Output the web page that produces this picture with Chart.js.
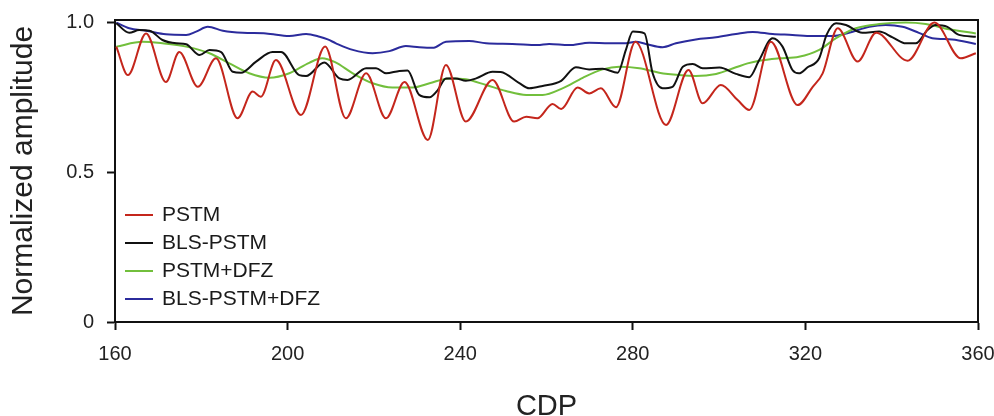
<!DOCTYPE html>
<html lang="en">
  <head>
    <meta charset="UTF-8" />
    <title>Normalized amplitude vs CDP</title>
    <script src="https://cdn.jsdelivr.net/npm/chart.js"></script>
    <style>
      html, body { margin: 0; padding: 0; background: #fff; }
      #wrap { width: 994px; height: 416px; }
    </style>
  </head>
  <body>
    <div id="wrap"><canvas id="ampChart" width="994" height="416"></canvas></div>
    <script>
      // values (CDP, normalized amplitude)
      const seriesLabels = ["PSTM", "BLS-PSTM", "PSTM+DFZ", "BLS-PSTM+DFZ"];
      const xTicks = [160, 200, 240, 280, 320, 360];
      const yTicks = [0, 0.5, 1.0];

      const pstmCdp = [160.3, 163, 167.2, 171.8, 174.9, 179.2, 183.4, 188.4, 191.9, 193.8, 197.3, 203.1, 208.7, 213.5, 218.2, 222.8, 227.1, 232.5, 236.7, 241.3, 247.5, 252.5, 255.3, 257.9, 261.4, 263.4, 267.2, 269.9, 272.6, 276.1, 280.6, 287.7, 292.9, 296.2, 300.4, 304.3, 307, 312, 318.2, 321.7, 324, 327.5, 332.1, 336.4, 343.7, 349.9, 356, 359.5];
      const pstm = [0.918, 0.823, 0.962, 0.80, 0.90, 0.784, 0.879, 0.679, 0.768, 0.751, 0.873, 0.69, 0.918, 0.679, 0.829, 0.679, 0.80, 0.607, 0.857, 0.668, 0.807, 0.668, 0.684, 0.679, 0.727, 0.71, 0.782, 0.762, 0.779, 0.716, 0.934, 0.657, 0.84, 0.729, 0.79, 0.74, 0.707, 0.934, 0.723, 0.784, 0.829, 0.979, 0.868, 0.964, 0.871, 0.998, 0.879, 0.896];

      const blsCdp = [160.3, 163.3, 165.6, 168, 171, 174.2, 176.5, 179.6, 181.9, 184.6, 187.3, 189.2, 192.7, 196.5, 198.5, 202.7, 204.3, 208.5, 212, 213.9, 218.2, 220.5, 222.8, 225.9, 227.8, 230.5, 232.9, 234.8, 236.7, 239, 241.3, 243.7, 247.5, 249.4, 253.7, 256, 259.1, 263.4, 266.8, 269.9, 273, 276.5, 278.4, 280, 282.7, 284.6, 286.9, 289.2, 291.6, 293.9, 296.2, 300.1, 303.9, 307, 309.3, 312.4, 314.7, 317, 318.5, 320.5, 323.2, 324.9, 327.1, 329.4, 333.2, 337.1, 340.2, 343.3, 345.6, 348.3, 350.2, 352.9, 355.6, 359.5];
      const blsPstm = [0.996, 0.964, 0.973, 0.971, 0.94, 0.929, 0.926, 0.89, 0.907, 0.90, 0.834, 0.831, 0.868, 0.90, 0.90, 0.823, 0.82, 0.865, 0.812, 0.807, 0.846, 0.846, 0.829, 0.837, 0.838, 0.757, 0.749, 0.773, 0.812, 0.812, 0.804, 0.812, 0.834, 0.833, 0.796, 0.779, 0.787, 0.804, 0.849, 0.842, 0.844, 0.831, 0.907, 0.968, 0.962, 0.829, 0.779, 0.784, 0.851, 0.86, 0.846, 0.848, 0.827, 0.816, 0.873, 0.946, 0.918, 0.84, 0.829, 0.849, 0.879, 0.957, 0.996, 0.99, 0.964, 0.968, 0.949, 0.929, 0.929, 0.973, 0.99, 0.984, 0.957, 0.951];

      const dfzCdp = [160.3, 166.4, 171, 176.5, 181.9, 186.5, 191.1, 195.8, 200.4, 205, 208, 211, 215.1, 219.7, 224.3, 229, 232.9, 237.5, 241.3, 246, 250.6, 255.3, 259.1, 263.7, 268.4, 273, 276.9, 281.5, 286.1, 290.8, 294.6, 299.3, 303.9, 306.6, 309.3, 313.9, 318.5, 323.2, 327.1, 331.7, 337.1, 343.3, 347.9, 353.3, 359.5];
      const pstmDfz = [0.918, 0.934, 0.929, 0.918, 0.896, 0.862, 0.829, 0.814, 0.829, 0.864, 0.879, 0.866, 0.829, 0.796, 0.782, 0.782, 0.796, 0.812, 0.809, 0.79, 0.77, 0.757, 0.757, 0.779, 0.814, 0.842, 0.851, 0.846, 0.831, 0.823, 0.82, 0.827, 0.849, 0.862, 0.871, 0.879, 0.884, 0.907, 0.946, 0.979, 0.993, 0.998, 0.993, 0.976, 0.962];

      const blsDfzCdp = [160.3, 163.3, 167.2, 171.8, 176.5, 178.8, 181.5, 185, 189.6, 195, 200.4, 204.3, 207.4, 209.3, 211.2, 215.1, 219.7, 223.6, 227.4, 230.5, 233.6, 236.7, 242.1, 246, 252.1, 257.9, 260.6, 265.2, 269.9, 274.5, 278.4, 280.7, 283, 286.9, 290, 294.6, 299.3, 303.9, 307.8, 312.4, 317, 321.6, 326.3, 330.1, 334.8, 338.6, 342.5, 346.3, 349.4, 354, 359.5];
      const blsPstmDfz = [0.998, 0.979, 0.971, 0.959, 0.957, 0.968, 0.984, 0.971, 0.964, 0.962, 0.953, 0.96, 0.951, 0.942, 0.929, 0.907, 0.896, 0.903, 0.92, 0.916, 0.914, 0.934, 0.937, 0.929, 0.927, 0.923, 0.927, 0.923, 0.931, 0.929, 0.929, 0.934, 0.927, 0.916, 0.929, 0.942, 0.949, 0.96, 0.967, 0.96, 0.957, 0.953, 0.953, 0.964, 0.984, 0.99, 0.984, 0.964, 0.946, 0.942, 0.927];

      const colors = ["#c4261c", "#111111", "#72bf3c", "#2b2b9c"];
      const FONT = "'Liberation Sans', Arial, sans-serif";

      function pairs(xs, ys) {
        return xs.map((x, i) => ({ x: x, y: ys[i] }));
      }

      // box around the plot + legend inside lower left
      const framePlugin = {
        id: "frame",
        afterDraw(chart) {
          const { ctx, chartArea } = chart;
          ctx.save();
          ctx.strokeStyle = "#111";
          ctx.lineWidth = 2;
          ctx.beginPath();
          ctx.moveTo(chartArea.left, chartArea.top);
          ctx.lineTo(chartArea.right, chartArea.top);
          ctx.lineTo(chartArea.right, chartArea.bottom);
          ctx.stroke();

          ctx.font = "21px " + FONT;
          ctx.textBaseline = "middle";
          ctx.fillStyle = "#1a1a1a";
          chart.data.datasets.forEach((ds, i) => {
            const y = chartArea.bottom - 107 + i * 28;
            const x = chartArea.left + 10;
            ctx.strokeStyle = ds.borderColor;
            ctx.lineWidth = 2;
            ctx.beginPath();
            ctx.moveTo(x, y);
            ctx.lineTo(x + 28, y);
            ctx.stroke();
            ctx.fillText(ds.label, x + 37, y);
          });
          ctx.restore();
        },
      };

      const ctx = document.getElementById("ampChart").getContext("2d");
      new Chart(ctx, {
        type: "line",
        data: {
          datasets: [
            { label: seriesLabels[0], data: pairs(pstmCdp, pstm) },
            { label: seriesLabels[1], data: pairs(blsCdp, blsPstm) },
            { label: seriesLabels[2], data: pairs(dfzCdp, pstmDfz) },
            { label: seriesLabels[3], data: pairs(blsDfzCdp, blsPstmDfz) },
          ].map((ds, i) => ({
            ...ds,
            borderColor: colors[i],
            borderWidth: 2,
            pointRadius: 0,
            fill: false,
            cubicInterpolationMode: "monotone",
          })),
        },
        options: {
          responsive: false,
          animation: false,
          layout: { padding: { top: 20, right: 0, left: 0, bottom: 0 } },
          plugins: { legend: { display: false }, tooltip: { enabled: false } },
          scales: {
            x: {
              type: "linear",
              min: 160,
              max: 360,
              afterFit(scale) {
                scale.height = 94;
                scale.paddingLeft = 0;
                scale.paddingRight = 16;
              },
              afterBuildTicks(scale) { scale.ticks = xTicks.map((v) => ({ value: v })); },
              border: { color: "#111", width: 2 },
              grid: { drawOnChartArea: false, drawTicks: true, tickLength: 8, color: "#111", tickWidth: 2 },
              ticks: { color: "#222", font: { family: FONT, size: 20 }, padding: 12, maxRotation: 0 },
              title: { display: true, text: "CDP", color: "#222", font: { family: FONT, size: 29, lineHeight: 0.6 }, padding: { top: 0, bottom: 0 } },
            },
            y: {
              min: 0,
              max: 1.0067,
              afterFit(scale) {
                scale.width = 115;
                scale.paddingTop = 0;
                scale.paddingBottom = 0;
              },
              afterBuildTicks(scale) { scale.ticks = yTicks.map((v) => ({ value: v })); },
              border: { color: "#111", width: 2 },
              grid: { drawOnChartArea: false, drawTicks: true, tickLength: 8, color: "#111", tickWidth: 2 },
              ticks: {
                color: "#222",
                font: { family: FONT, size: 20 },
                padding: 13,
                callback: (v) => (v === 0 ? "0" : v.toFixed(1)),
              },
              title: { display: true, text: "Normalized amplitude", color: "#222", font: { family: FONT, size: 30 }, padding: { top: 6, bottom: 0 } },
            },
          },
        },
        plugins: [framePlugin],
      });
    </script>
  </body>
</html>
